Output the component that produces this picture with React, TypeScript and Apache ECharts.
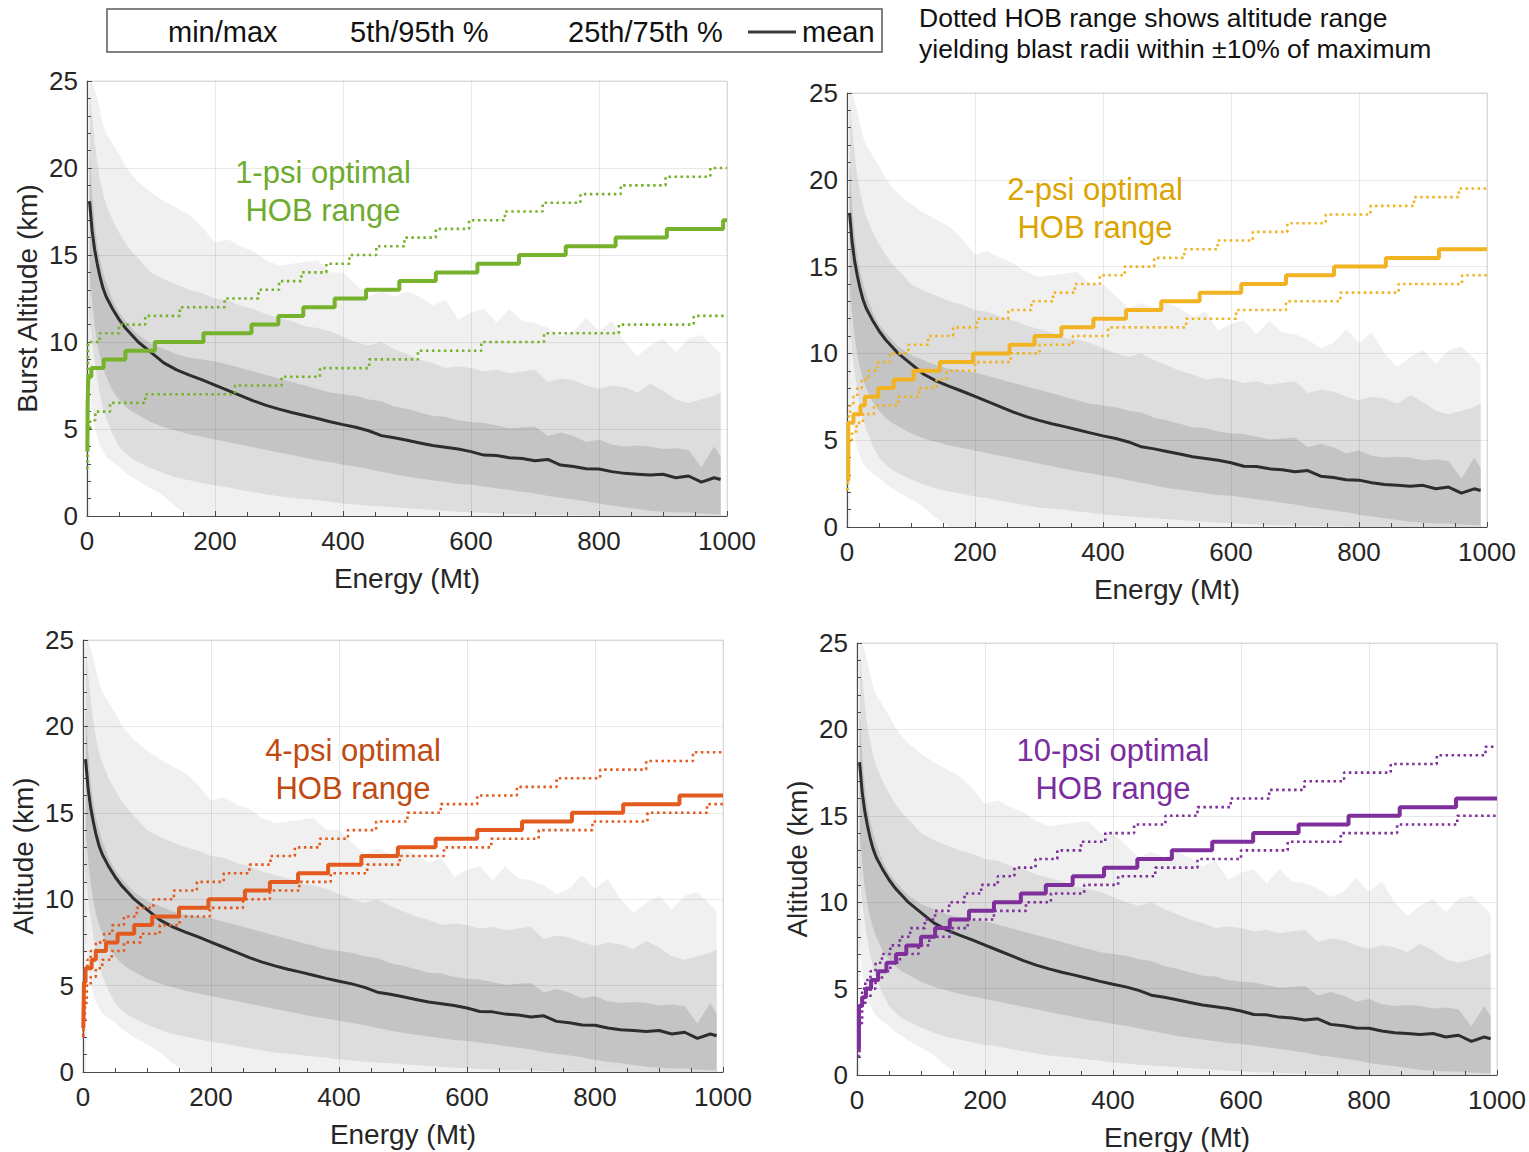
import React, { useEffect, useRef } from 'react';
import * as echarts from 'echarts';

// ---------------- shared statistics (Energy in Mt, altitude in km) ----------------
const energy = [4, 8, 12, 16, 20, 25, 30, 40, 50, 60, 70, 80, 100, 120, 140, 160, 180,
  200, 220, 240, 260, 280, 300, 320, 340, 360, 380,
  400, 420, 440, 460, 480, 500, 520, 540, 560, 580,
  600, 620, 640, 660, 680, 700, 720, 740, 760, 780,
  800, 820, 840, 860, 880, 900, 920, 940, 960, 980, 990];

const bandMax = [25, 25, 24.5, 24, 23.3, 22.5, 22.0, 21.4, 20.8, 20.1, 19.6, 19.2, 18.6, 18.1, 17.7, 17.3, 16.6,
  15.7, 15.9, 15.5, 15.2, 14.7, 14.4, 14.5, 14.6, 14.7, 14.0,
  14.0, 13.3, 12.6, 12.9, 12.6, 12.9, 12.6, 12.1, 12.4, 11.3,
  11.7, 11.9, 11.1, 11.9, 11.2, 11.1, 10.8, 10.3, 10.6, 11.4,
  10.6, 11.2, 10.0, 9.2, 9.8, 10.2, 9.4, 10.2, 10.4, 9.7, 9.3];

const band95 = [24.5, 23.0, 21.5, 20.3, 19.4, 18.5, 17.9, 17.0, 16.3, 15.7, 15.2, 14.8, 14.0, 13.6, 13.3, 13.0, 12.8,
  12.5, 12.4, 12.1, 11.9, 11.6, 11.4, 11.2, 10.9, 10.8, 10.6,
  10.3, 10.0, 9.8, 10.0, 9.6, 9.3, 9.0, 8.8, 8.5, 8.6,
  8.5, 8.3, 8.4, 8.2, 8.3, 8.4, 7.7, 7.9, 7.8, 7.5,
  7.3, 7.5, 7.4, 7.1, 7.6, 7.2, 6.7, 6.5, 6.7, 6.9, 7.1];

const band75 = [21, 18.5, 16.8, 15.6, 14.8, 14.0, 13.4, 12.4, 11.7, 11.2, 10.8, 10.4, 9.9, 9.6, 9.3, 9.1, 9.0,
  8.9, 8.7, 8.5, 8.3, 8.1, 7.9, 7.7, 7.5, 7.3, 7.1,
  7.0, 6.9, 6.7, 6.6, 6.3, 6.15, 5.95, 5.75, 5.7, 5.5,
  5.4, 5.35, 5.2, 5.05, 5.1, 5.15, 4.6, 4.8, 4.6, 4.25,
  4.4, 4.1, 4.0, 4.05, 4.0, 3.85, 3.9, 3.8, 2.8, 4.0, 3.4];

const meanAlt = [18.1, 16.4, 15.3, 14.5, 13.8, 13.1, 12.6, 11.9, 11.3, 10.8, 10.4, 10.0, 9.4, 8.8, 8.4, 8.1, 7.82,
  7.52, 7.22, 6.92, 6.62, 6.36, 6.14, 5.95, 5.78, 5.6, 5.42,
  5.25, 5.1, 4.9, 4.62, 4.5, 4.35, 4.2, 4.05, 3.95, 3.85,
  3.7, 3.5, 3.48, 3.35, 3.3, 3.18, 3.25, 2.93, 2.85, 2.72,
  2.7, 2.55, 2.45, 2.4, 2.35, 2.4, 2.2, 2.3, 1.95, 2.2, 2.1];

const band25 = [14, 12.3, 10.9, 10.0, 9.2, 8.5, 8.0, 7.2, 6.7, 6.3, 6.0, 5.8, 5.4, 5.1, 4.9, 4.7, 4.55,
  4.4, 4.25, 4.1, 3.95, 3.8, 3.65, 3.5, 3.35, 3.2, 3.1,
  2.95, 2.85, 2.7, 2.55, 2.4, 2.25, 2.15, 2.05, 1.95, 1.85,
  1.8, 1.7, 1.6, 1.5, 1.4, 1.3, 1.15, 1.05, 0.95, 0.85,
  0.7, 0.6, 0.5, 0.4, 0.3, 0.25, 0.2, 0.2, 0.15, 0.1, 0.1];

const band5 = [11.5, 10.0, 8.9, 7.9, 7.0, 6.2, 5.6, 4.7, 4.0, 3.6, 3.3, 3.1, 2.75, 2.45, 2.2, 2.05, 1.9,
  1.75, 1.65, 1.5, 1.38, 1.25, 1.13, 1.05, 0.98, 0.9, 0.82,
  0.72, 0.66, 0.6, 0.55, 0.5, 0.45, 0.4, 0.35, 0.3, 0.25,
  0.22, 0.18, 0.15, 0.12, 0.1, 0.08, 0.06, 0.05, 0.04, 0.03,
  0.02, 0.02, 0.01, 0, 0, 0, 0, 0, 0, 0, 0];

const bandMin = [7.5, 6.0, 5.1, 4.5, 4.1, 3.7, 3.4, 3.1, 2.85, 2.5, 2.25, 2.0, 1.6, 1.15, 0.5, 0, 0,
  0, 0, 0, 0, 0, 0, 0, 0, 0, 0,
  0, 0, 0, 0, 0, 0, 0, 0, 0, 0,
  0, 0, 0, 0, 0, 0, 0, 0, 0, 0,
  0, 0, 0, 0, 0, 0, 0, 0, 0, 0, 0];

// ---------------- optimal HOB ranges: [energy at which the step starts, altitude] ----------------
const psi1Solid = [[0.5, 3.7], [1, 6.5], [2, 8.0], [6.7, 8.5], [26, 9], [60, 9.5], [106, 10], [182, 10.5], [257, 11], [299, 11.5], [338, 12], [387, 12.5], [436, 13], [488, 13.5], [545, 14], [610, 14.5], [675, 15], [748, 15.5], [826, 16], [906, 16.5], [994, 17], [1000, 17]];
const psi1Upper = [[0.5, 7], [1.5, 10], [20, 10.5], [50, 11], [91, 11.5], [145, 12], [215, 12.5], [268, 13], [300, 13.5], [335, 14], [374, 14.5], [410, 15], [452, 15.5], [496, 16], [545, 16.5], [597, 17], [653, 17.5], [712, 18], [771, 18.5], [834, 19], [904, 19.5], [974, 20], [1000, 20]];
const psi1Lower = [[0.3, 2.7], [1, 4.5], [2, 5.0], [5, 5.5], [13, 6.0], [36, 6.5], [91, 7.0], [231, 7.5], [304, 8.0], [364, 8.5], [441, 9.0], [517, 9.5], [616, 10], [714, 10.5], [831, 11], [948, 11.5], [1000, 11.5]];

const psi2Solid = [[0.5, 2.7], [2, 6.0], [10, 6.5], [21, 7.0], [28, 7.5], [49, 8.0], [73, 8.5], [104, 9.0], [145, 9.5], [197, 10], [254, 10.5], [293, 11], [335, 11.5], [385, 12], [436, 12.5], [491, 13], [551, 13.5], [616, 14], [686, 14.5], [761, 15], [842, 15.5], [925, 16], [1000, 16]];
const psi2Upper = [[0.5, 5.0], [3, 6.5], [5, 7.0], [10, 7.5], [16, 8.0], [23, 8.5], [34, 9.0], [47, 9.5], [67, 10], [96, 10.5], [127, 11], [166, 11.5], [203, 12], [252, 12.5], [288, 13], [322, 13.5], [356, 14], [395, 14.5], [434, 15], [480, 15.5], [527, 16], [579, 16.5], [634, 17], [688, 17.5], [748, 18], [818, 18.5], [886, 19], [956, 19.5], [1000, 19.5]];
const psi2Lower = [[0.5, 2.1], [1, 4.0], [3, 5.0], [8, 5.5], [15, 6.0], [25, 6.5], [42, 7.0], [80, 7.5], [112, 8.0], [140, 8.5], [156, 9.0], [200, 9.5], [256, 10], [301, 10.5], [353, 11], [408, 11.5], [530, 12], [608, 12.5], [686, 13], [771, 13.5], [862, 14], [961, 14.5], [1000, 14.5]];

const psi4Solid = [[0.5, 2.55], [1.5, 5.2], [4, 6.0], [13.5, 6.5], [20, 7.0], [36, 7.5], [54, 8.0], [80, 8.5], [108, 9.0], [150, 9.5], [196, 10], [253, 10.5], [292, 11], [336, 11.5], [383, 12], [435, 12.5], [492, 13], [551, 13.5], [616, 14], [686, 14.5], [764, 15], [844, 15.5], [932, 16], [1000, 16]];
const psi4Upper = [[0.3, 2.1], [1, 4.0], [2, 5.0], [4, 6.0], [7, 6.5], [12, 7.0], [20, 7.5], [33, 8.0], [46, 8.5], [64, 9.0], [84, 9.5], [110, 10], [142, 10.5], [178, 11], [220, 11.5], [260, 12], [293, 12.5], [331, 13], [370, 13.5], [414, 14], [458, 14.5], [507, 15], [559, 15.5], [616, 16], [678, 16.5], [740, 17], [808, 17.5], [880, 18], [953, 18.5], [1000, 18.5]];
const psi4Lower = [[0.3, 2.0], [1, 3.0], [3, 4.0], [6, 5.0], [12, 5.5], [20, 6.0], [30, 6.5], [45, 7.0], [64, 7.5], [90, 8.0], [120, 8.5], [151, 9.0], [198, 9.5], [250, 10], [292, 10.5], [338, 11], [387, 11.5], [444, 12], [495, 12.5], [564, 13], [638, 13.5], [712, 14], [796, 14.5], [882, 15], [975, 15.5], [1000, 15.5]];

const psi10Solid = [[0.5, 1.5], [3, 4.0], [8, 4.5], [14, 5.0], [22, 5.5], [33, 6.0], [46, 6.5], [61, 7.0], [77, 7.5], [100, 8.0], [122, 8.5], [145, 9.0], [175, 9.5], [214, 10], [256, 10.5], [295, 11], [337, 11.5], [386, 12], [438, 12.5], [492, 13], [555, 13.5], [619, 14], [690, 14.5], [768, 15], [848, 15.5], [936, 16], [1000, 16]];
const psi10Upper = [[0.5, 1.5], [4, 4.0], [8, 5.0], [13, 5.5], [21, 6.0], [29, 6.5], [39, 7.0], [52, 7.5], [67, 8.0], [83, 8.5], [106, 9.0], [122, 9.5], [144, 10], [168, 10.5], [194, 11], [220, 11.5], [246, 12], [279, 12.5], [313, 13], [350, 13.5], [388, 14], [433, 14.5], [482, 15], [532, 15.5], [584, 16], [644, 16.5], [699, 17], [761, 17.5], [834, 18], [906, 18.5], [982, 19], [1000, 19]];
const psi10Lower = [[0.5, 1.1], [4, 3.0], [8, 4.0], [13, 4.5], [21, 5.0], [29, 5.5], [39, 6.0], [52, 6.5], [67, 7.0], [96, 7.5], [113, 8.0], [147, 8.5], [173, 9.0], [214, 9.5], [264, 10], [303, 10.5], [355, 11], [408, 11.5], [466, 12], [532, 12.5], [600, 13], [673, 13.5], [756, 14], [844, 14.5], [938, 15], [1000, 15]];

const xTicks = { min: 0, max: 1000, interval: 200 };
const yTicks = { min: 0, max: 25, interval: 5 };

const legendLabels = ['min/max', '5th/95th %', '25th/75th %', 'mean'];
const noteLines = ['Dotted HOB range shows altitude range', 'yielding blast radii within \u00b110% of maximum'];

const FONT = '"Liberation Sans", Arial, Helvetica, sans-serif';
const INK = '#262626';

const panels = [
  { left: 87, top: 81, width: 640, height: 435, yName: 'Burst Altitude (km)', line: '#77b22c', text: '#6eab2e', title: ['1-psi optimal', 'HOB range'], tx: 323, ty: 172, solid: psi1Solid, upper: psi1Upper, lower: psi1Lower },
  { left: 847, top: 93, width: 640, height: 434, yName: '', line: '#f1b322', text: '#dba400', title: ['2-psi optimal', 'HOB range'], tx: 1095, ty: 189, solid: psi2Solid, upper: psi2Upper, lower: psi2Lower },
  { left: 83, top: 640, width: 640, height: 432, yName: 'Altitude (km)', line: '#e35a1e', text: '#c04a10', title: ['4-psi optimal', 'HOB range'], tx: 353, ty: 750, solid: psi4Solid, upper: psi4Upper, lower: psi4Lower },
  { left: 857, top: 643, width: 640, height: 433, yName: 'Altitude (km)', line: '#7e2f9b', text: '#7b2d9e', title: ['10-psi optimal', 'HOB range'], tx: 1113, ty: 750, solid: psi10Solid, upper: psi10Upper, lower: psi10Lower },
];

const bandLayers = [
  { values: bandMax, color: '#f0f0f0' },
  { values: band95, color: '#dddddd' },
  { values: band75, color: '#c4c4c4' },
  { values: band25, color: '#dddddd' },
  { values: band5, color: '#f0f0f0' },
  { values: bandMin, color: '#ffffff' },
];

function buildOption() {
  const grid: any[] = [];
  const xAxis: any[] = [];
  const yAxis: any[] = [];
  const series: any[] = [];
  const graphic: any[] = [];

  panels.forEach((p, i) => {
    grid.push({ left: p.left, top: p.top, width: p.width, height: p.height, show: true, borderColor: '#dedede', borderWidth: 1 });
    const axisCommon = {
      gridIndex: i,
      type: 'value',
      nameLocation: 'middle',
      nameTextStyle: { fontSize: 28, color: INK, fontFamily: FONT },
      axisLine: { show: true, onZero: false, lineStyle: { color: '#4a4a4a', width: 1.2 } },
      axisTick: { show: true, inside: true, length: 5, lineStyle: { color: '#4a4a4a', width: 1 } },
      axisLabel: { fontSize: 26, color: INK, fontFamily: FONT, showMinLabel: true, showMaxLabel: true, formatter: (v: number) => String(v) },
      splitLine: { show: true, lineStyle: { color: 'rgba(0,0,0,0.085)', width: 1 } },
      z: 3,
    };
    xAxis.push({
      ...axisCommon,
      ...xTicks,
      name: 'Energy (Mt)',
      nameGap: 48,
      minorTick: { show: true, splitNumber: 4, length: 4, lineStyle: { color: '#4a4a4a' } },
      axisLabel: { ...axisCommon.axisLabel, margin: 12 },
    });
    yAxis.push({
      ...axisCommon,
      ...yTicks,
      name: p.yName,
      nameGap: 46,
      nameRotate: 90,
      minorTick: { show: true, splitNumber: 5, length: 4, lineStyle: { color: '#4a4a4a' } },
      axisLabel: { ...axisCommon.axisLabel, margin: 9 },
    });

    bandLayers.forEach((b) => {
      series.push({
        type: 'line', xAxisIndex: i, yAxisIndex: i, silent: true, symbol: 'none', showSymbol: false,
        data: energy.map((e, j) => [e, b.values[j]]),
        lineStyle: { width: 0, opacity: 0 },
        areaStyle: { color: b.color, opacity: 1, origin: 'start' },
        z: 1,
      });
    });
    series.push({
      type: 'line', xAxisIndex: i, yAxisIndex: i, silent: true, symbol: 'none', showSymbol: false,
      data: energy.map((e, j) => [e, meanAlt[j]]),
      lineStyle: { color: '#2d2d2d', width: 3 },
      z: 5,
    });
    [p.upper, p.lower].forEach((d) => {
      series.push({
        type: 'line', xAxisIndex: i, yAxisIndex: i, silent: true, symbol: 'none', showSymbol: false, step: 'end',
        data: d,
        lineStyle: { color: p.line, width: 2.6, type: [2.5, 3.5] },
        z: 6,
      });
    });
    series.push({
      type: 'line', xAxisIndex: i, yAxisIndex: i, silent: true, symbol: 'none', showSymbol: false, step: 'end',
      data: p.solid,
      lineStyle: { color: p.line, width: 4 },
      z: 7,
    });

    p.title.forEach((t, k) => {
      graphic.push({
        type: 'text', x: p.tx, y: p.ty + k * 38, z: 20,
        style: { text: t, fill: p.text, fontSize: 31, fontFamily: FONT, align: 'center', verticalAlign: 'middle', textAlign: 'center', textVerticalAlign: 'middle' },
      });
    });
  });

  // legend box
  graphic.push({ type: 'rect', shape: { x: 107, y: 9, width: 775, height: 43 }, style: { fill: '#ffffff', stroke: '#5a5a5a', lineWidth: 1.5 }, z: 10 });
  const legendX = [168, 350, 568, 802];
  legendLabels.forEach((t, k) => {
    graphic.push({
      type: 'text', x: legendX[k], y: 32, z: 11,
      style: { text: t, fill: '#111', fontSize: 29, fontFamily: FONT, align: 'left', verticalAlign: 'middle', textAlign: 'left', textVerticalAlign: 'middle' },
    });
  });
  graphic.push({ type: 'line', shape: { x1: 748, y1: 32, x2: 796, y2: 32 }, style: { stroke: '#3a3a3a', lineWidth: 3 }, z: 11 });

  noteLines.forEach((t, k) => {
    graphic.push({
      type: 'text', x: 919, y: 18 + k * 31, z: 11,
      style: { text: t, fill: '#111', fontSize: 26.5, fontFamily: FONT, align: 'left', verticalAlign: 'middle', textAlign: 'left', textVerticalAlign: 'middle' },
    });
  });

  return { animation: false, backgroundColor: '#ffffff', grid, xAxis, yAxis, series, graphic };
}

export default function App() {
  const ref = useRef<HTMLDivElement>(null);
  useEffect(() => {
    if (!ref.current) return;
    const chart = echarts.init(ref.current, undefined, { renderer: 'svg' });
    chart.setOption(buildOption() as any);
    return () => chart.dispose();
  }, []);
  return <div ref={ref} style={{ position: 'absolute', left: 0, top: 0, width: 1529, height: 1152 }} />;
}
